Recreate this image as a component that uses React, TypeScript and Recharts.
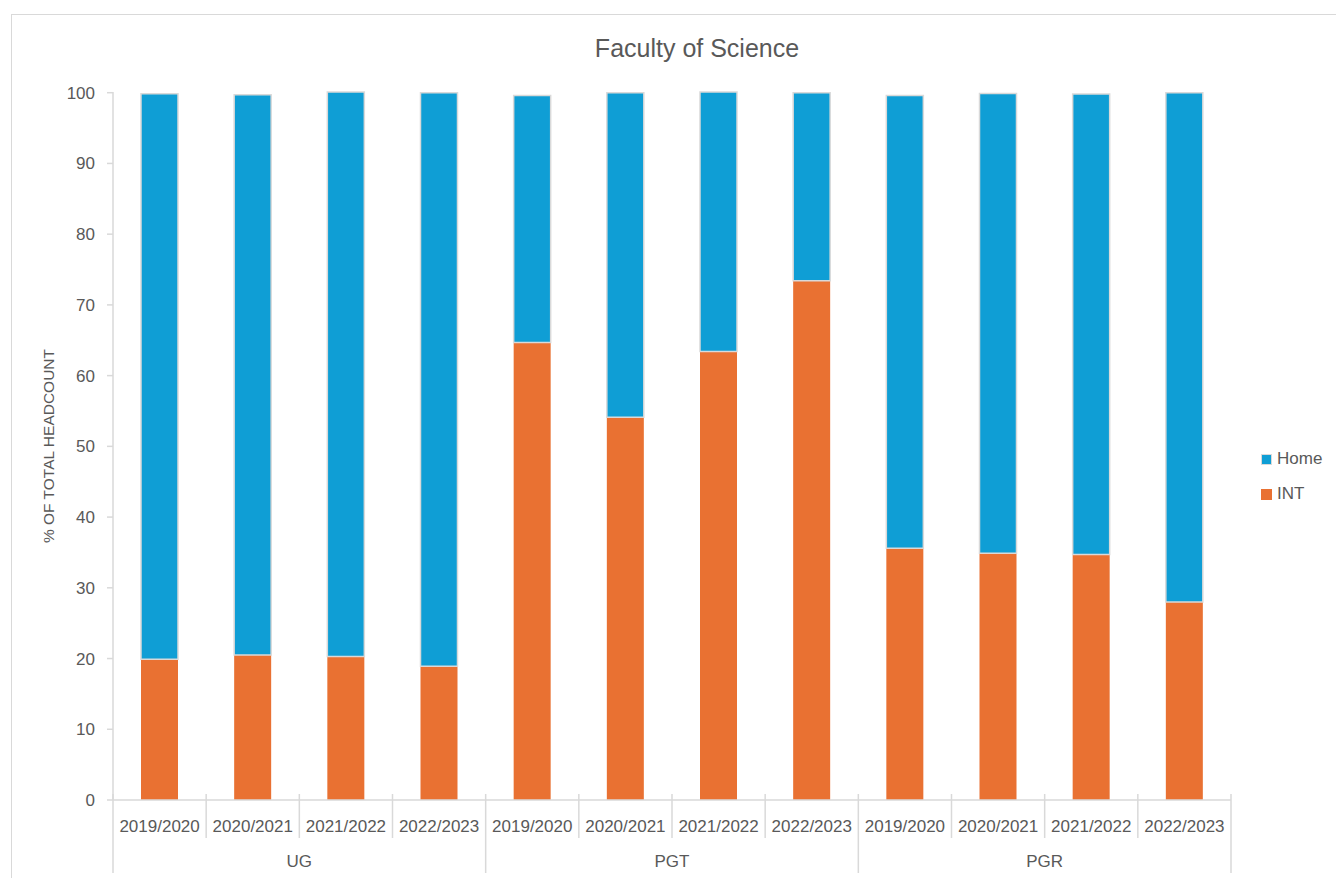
import React from 'react';
import { BarChart, Bar, XAxis, YAxis } from 'recharts';

const groups = ['UG', 'PGT', 'PGR'];
const years = ['2019/2020', '2020/2021', '2021/2022', '2022/2023'];
const intValues = [19.9, 20.5, 20.3, 18.9, 64.7, 54.1, 63.4, 73.4, 35.6, 34.9, 34.7, 28.0];
const homeValues = [79.95, 79.2, 79.8, 81.1, 34.9, 45.9, 36.7, 26.6, 64.0, 65.0, 65.1, 72.0];
const yTicks = [0, 10, 20, 30, 40, 50, 60, 70, 80, 90, 100];

const seriesNames = { home: 'Home', int: 'INT' };
const HOME_COLOR = '#0F9ED5';
const INT_COLOR = '#E97132';
const TEXT = '#595959';
const AXIS = '#d9d9d9';
const FONT = '"Liberation Sans", Arial, sans-serif';

const data = groups.flatMap((g, gi) =>
  years.map((yr, yi) => {
    const i = gi * years.length + yi;
    return { key: `${g}-${yr}`, year: yr, group: g, int: intValues[i], home: homeValues[i] };
  })
);

function CategoryTick(props: any) {
  const { x, y, payload, width, visibleTicksCount } = props;
  const idx = payload.index;
  const half = payload.offset != null && payload.offset > 0 ? payload.offset : width / visibleTicksCount / 2;
  const row = data[idx];
  const pos = idx % years.length;
  const left = x - half;
  const right = x + half;
  return (
    <g>
      <line x1={left} x2={left} y1={y - 6} y2={y + (pos === 0 ? 73 : 38)} stroke={AXIS} strokeWidth={1.5} />
      {idx === data.length - 1 && (
        <line x1={right} x2={right} y1={y - 6} y2={y + 73} stroke={AXIS} strokeWidth={1.5} />
      )}
      <text x={x} y={y + 26} textAnchor="middle" dominantBaseline="central" fill={TEXT} fontSize={17} fontFamily={FONT}>
        {row.year}
      </text>
      {pos === years.length / 2 - 1 && (
        <text x={right} y={y + 61} textAnchor="middle" dominantBaseline="central" fill={TEXT} fontSize={17} fontFamily={FONT}>
          {row.group}
        </text>
      )}
    </g>
  );
}

function YLabel(props: any) {
  const vb = props.viewBox || {};
  const cx = vb.x + vb.width - 65;
  const cy = vb.y + vb.height / 2;
  return (
    <text
      x={cx}
      y={cy}
      transform={`rotate(-90 ${cx} ${cy})`}
      textAnchor="middle"
      dominantBaseline="central"
      fill={TEXT}
      fontSize={15.5}
      fontFamily={FONT}
    >
      % OF TOTAL HEADCOUNT
    </text>
  );
}

export default function App() {
  return (
    <div style={{ position: 'absolute', left: 0, top: 0, width: 1336, height: 878, overflow: 'hidden', background: '#fff' }}>
      <div
        style={{
          position: 'absolute',
          left: 11,
          top: 14,
          width: 1400,
          height: 900,
          border: `1.5px solid ${AXIS}`,
          boxSizing: 'border-box',
        }}
      />
      <div
        style={{
          position: 'absolute',
          left: 11,
          top: 32,
          width: 1372,
          textAlign: 'center',
          fontFamily: FONT,
          fontSize: 25,
          lineHeight: '32px',
          color: TEXT,
        }}
      >
        Faculty of Science
      </div>
      <div style={{ position: 'absolute', left: 0, top: 0 }}>
        <BarChart width={1336} height={878} data={data} margin={{ top: 92, right: 105, bottom: 48, left: 53 }}>
          <XAxis
            dataKey="key"
            height={30}
            interval={0}
            tickLine={false}
            tickSize={0}
            tickMargin={0}
            axisLine={{ stroke: AXIS, strokeWidth: 1.5 }}
            tick={<CategoryTick />}
          />
          <YAxis
            width={60}
            domain={[0, 100]}
            ticks={yTicks}
            interval={0}
            tickSize={6}
            tickMargin={12}
            axisLine={{ stroke: AXIS, strokeWidth: 1.5 }}
            tickLine={{ stroke: AXIS, strokeWidth: 1.5 }}
            tick={{ fill: TEXT, fontSize: 17, fontFamily: FONT }}
            label={<YLabel />}
          />
          <Bar dataKey="int" name={seriesNames.int} stackId="a" fill={INT_COLOR} barSize={37} isAnimationActive={false} />
          <Bar
            dataKey="home"
            name={seriesNames.home}
            stackId="a"
            fill={HOME_COLOR}
            stroke={AXIS}
            strokeWidth={1.5}
            barSize={37}
            isAnimationActive={false}
          />
        </BarChart>
      </div>
      {[
        { name: seriesNames.home, color: HOME_COLOR, border: true, top: 447 },
        { name: seriesNames.int, color: INT_COLOR, border: false, top: 482 },
      ].map((item) => (
        <div
          key={item.name}
          style={{
            position: 'absolute',
            left: 1261,
            top: item.top,
            height: 24,
            display: 'flex',
            alignItems: 'center',
            fontFamily: FONT,
            fontSize: 17,
            color: TEXT,
          }}
        >
          <span
            style={{
              display: 'inline-block',
              width: 9,
              height: 9,
              background: item.color,
              border: item.border ? `1px solid ${AXIS}` : '1px solid transparent',
              marginRight: 5,
            }}
          />
          {item.name}
        </div>
      ))}
    </div>
  );
}
